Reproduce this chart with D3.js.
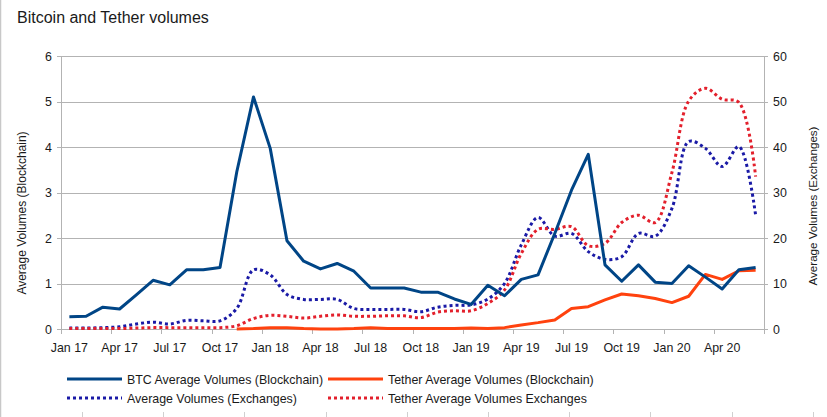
<!DOCTYPE html>
<html>
<head>
<meta charset="utf-8">
<script src="https://cdn.jsdelivr.net/npm/d3@7"></script>
<style>
  body { margin: 0; background: #fff; }
  text { font-family: "Liberation Sans", Arial, sans-serif; fill: #1a1a1a; }
</style>
</head>
<body>
<svg id="chart"></svg>
<script>
const months = [
  "Jan 17","Feb 17","Mar 17","Apr 17","May 17","Jun 17","Jul 17","Aug 17","Sep 17","Oct 17","Nov 17","Dec 17",
  "Jan 18","Feb 18","Mar 18","Apr 18","May 18","Jun 18","Jul 18","Aug 18","Sep 18","Oct 18","Nov 18","Dec 18",
  "Jan 19","Feb 19","Mar 19","Apr 19","May 19","Jun 19","Jul 19","Aug 19","Sep 19","Oct 19","Nov 19","Dec 19",
  "Jan 20","Feb 20","Mar 20","Apr 20","May 20","Jun 20"
];

// left axis (blockchain)
const btcBlockchain = [
  0.27, 0.28, 0.48, 0.44, 0.75, 1.07, 0.97, 1.30, 1.30, 1.35, 3.45, 5.10,
  3.97, 1.94, 1.49, 1.32, 1.44, 1.27, 0.90, 0.90, 0.90, 0.81, 0.81, 0.66,
  0.54, 0.96, 0.73, 1.09, 1.19, 2.10, 3.05, 3.84, 1.41, 1.05, 1.41, 1.03,
  1.00, 1.39, 1.14, 0.88, 1.30, 1.35
];
const tetherBlockchain = [
  null, null, null, null, null, null, null, null, null, null, 0.00, 0.01,
  0.03, 0.03, 0.01, 0.00, 0.00, 0.01, 0.03, 0.01, 0.01, 0.01, 0.01, 0.01,
  0.02, 0.01, 0.03, 0.09, 0.14, 0.20, 0.45, 0.49, 0.64, 0.77, 0.73, 0.67,
  0.58, 0.72, 1.20, 1.09, 1.28, 1.29
];

// right axis (exchanges)
const avgExchanges = [
  0.2, 0.2, 0.3, 0.5, 1.1, 1.5, 1.1, 1.9, 1.8, 1.8, 4.5, 13.0,
  11.9, 7.6, 6.5, 6.5, 6.5, 4.5, 4.3, 4.3, 4.3, 3.8, 4.8, 5.2,
  5.3, 6.6, 10.0, 18.5, 24.5, 20.4, 21.0, 17.0, 15.3, 15.9, 21.0, 20.4,
  26.5, 41.2, 39.7, 35.7, 40.1, 25.0
];
const tetherExchanges = [
  0.1, 0.1, 0.1, 0.1, 0.2, 0.3, 0.3, 0.3, 0.3, 0.3, 0.7, 2.3,
  3.0, 2.8, 2.4, 2.8, 3.1, 2.8, 2.8, 2.9, 2.9, 2.5, 3.7, 4.0,
  4.0, 5.6, 8.6, 16.6, 21.9, 21.9, 22.5, 18.3, 18.8, 23.4, 25.0, 23.4,
  34.4, 50.1, 52.9, 50.5, 49.8, 33.5
];

const leftTicks = [0, 1, 2, 3, 4, 5, 6];
const rightTicks = [0, 10, 20, 30, 40, 50, 60];

const seriesNames = [
  "BTC Average Volumes (Blockchain)",
  "Tether Average Volumes (Blockchain)",
  "Average Volumes (Exchanges)",
  "Tether Average Volumes Exchanges"
];

const width = 827, height = 417;
const plotLeft = 61, plotRight = 764, plotTop = 56, plotBottom = 329;
const gridColor = "#b3b3b3";

const svg = d3.select("#chart")
  .attr("width", width)
  .attr("height", height)
  .style("display", "block");

svg.append("rect").attr("width", width).attr("height", height).attr("fill", "#fff");
svg.append("line")
  .attr("x1", 0.5).attr("x2", 0.5).attr("y1", 0).attr("y2", height)
  .attr("stroke", "#c8c8c8").attr("stroke-width", 1.5);

// faint marks along the bottom edge
svg.append("g").selectAll("line")
  .data(d3.range(82, width, 81.2))
  .enter().append("line")
  .attr("x1", d => Math.round(d) + 0.5).attr("x2", d => Math.round(d) + 0.5)
  .attr("y1", 412).attr("y2", 417)
  .attr("stroke", "#d0d0d0");

const x = d3.scaleBand().domain(months).range([plotLeft, plotRight]).padding(0);
const xc = d => x(d) + x.bandwidth() / 2;
const yL = d3.scaleLinear().domain([0, 6]).range([plotBottom, plotTop]);
const yR = d3.scaleLinear().domain([0, 60]).range([plotBottom, plotTop]);

// title
svg.append("text")
  .attr("x", 17).attr("y", 23)
  .attr("font-size", "16px")
  .text("Bitcoin and Tether volumes");

// grid
svg.append("g").selectAll("line")
  .data(leftTicks)
  .enter().append("line")
  .attr("x1", plotLeft).attr("x2", plotRight)
  .attr("y1", d => Math.round(yL(d)) + 0.5).attr("y2", d => Math.round(yL(d)) + 0.5)
  .attr("stroke", gridColor);

// left axis
const gL = svg.append("g");
gL.append("line")
  .attr("x1", plotLeft + 0.5).attr("x2", plotLeft + 0.5).attr("y1", plotTop).attr("y2", plotBottom)
  .attr("stroke", gridColor);
gL.selectAll(".tk").data(leftTicks).enter().append("line")
  .attr("x1", plotLeft - 4).attr("x2", plotLeft)
  .attr("y1", d => Math.round(yL(d)) + 0.5).attr("y2", d => Math.round(yL(d)) + 0.5)
  .attr("stroke", gridColor);
gL.selectAll("text").data(leftTicks).enter().append("text")
  .attr("x", 52).attr("y", d => yL(d) + 4.5)
  .attr("text-anchor", "end")
  .attr("font-size", "12.4px")
  .text(d => d);

// right axis
const gR = svg.append("g");
gR.append("line")
  .attr("x1", plotRight + 0.5).attr("x2", plotRight + 0.5).attr("y1", plotTop).attr("y2", plotBottom + 5)
  .attr("stroke", gridColor);
gR.selectAll(".tk").data(rightTicks).enter().append("line")
  .attr("x1", plotRight).attr("x2", plotRight + 4)
  .attr("y1", d => Math.round(yR(d)) + 0.5).attr("y2", d => Math.round(yR(d)) + 0.5)
  .attr("stroke", gridColor);
gR.selectAll("text").data(rightTicks).enter().append("text")
  .attr("x", 773).attr("y", d => yR(d) + 4.5)
  .attr("font-size", "12.4px")
  .text(d => d);

// x axis
const gX = svg.append("g");
gX.append("line")
  .attr("x1", plotLeft - 4).attr("x2", plotRight).attr("y1", plotBottom + 0.5).attr("y2", plotBottom + 0.5)
  .attr("stroke", gridColor);
const quarterMonths = months.filter((m, i) => i % 3 === 0);
gX.selectAll(".tk").data(quarterMonths.concat([null])).enter().append("line")
  .attr("x1", d => (d ? Math.round(x(d)) : plotRight) + 0.5)
  .attr("x2", d => (d ? Math.round(x(d)) : plotRight) + 0.5)
  .attr("y1", plotBottom).attr("y2", plotBottom + 5)
  .attr("stroke", gridColor);
gX.selectAll("text").data(quarterMonths).enter().append("text")
  .attr("x", d => xc(d)).attr("y", 352)
  .attr("text-anchor", "middle")
  .attr("font-size", "12.4px")
  .text(d => d);

// axis titles
svg.append("text")
  .attr("transform", "translate(26,213) rotate(-90)")
  .attr("text-anchor", "middle")
  .attr("font-size", "12px")
  .text("Average Volumes (Blockchain)");
svg.append("text")
  .attr("transform", "translate(817,206) rotate(-90)")
  .attr("text-anchor", "middle")
  .attr("font-size", "11.6px")
  .text("Average Volumes (Exchanges)");

// series
const styles = [
  { values: btcBlockchain, scale: yL, color: "#004586", dash: null, curve: d3.curveLinear },
  { values: tetherBlockchain, scale: yL, color: "#ff420e", dash: null, curve: d3.curveLinear },
  { values: avgExchanges, scale: yR, color: "#1a1aa6", dash: "3,3", curve: d3.curveCatmullRom },
  { values: tetherExchanges, scale: yR, color: "#e3202c", dash: "3,3", curve: d3.curveCatmullRom }
];

const plot = svg.append("g");
[2, 3, 1, 0].forEach(k => {
  const s = styles[k];
  const line = d3.line()
    .defined(d => d[1] !== null)
    .x(d => xc(d[0]))
    .y(d => s.scale(d[1]))
    .curve(s.curve);
  plot.append("path")
    .datum(months.map((m, i) => [m, s.values[i]]))
    .attr("d", line)
    .attr("fill", "none")
    .attr("stroke", s.color)
    .attr("stroke-width", 3)
    .attr("stroke-linejoin", "round")
    .attr("stroke-dasharray", s.dash);
});

// legend
const legendPos = [[67, 379], [328, 379], [67, 398], [328, 398]];
const legend = svg.append("g");
seriesNames.forEach((name, k) => {
  const [lx, ly] = legendPos[k];
  legend.append("line")
    .attr("x1", lx).attr("x2", lx + 55)
    .attr("y1", ly).attr("y2", ly)
    .attr("stroke", styles[k].color)
    .attr("stroke-width", 3)
    .attr("stroke-dasharray", styles[k].dash);
  legend.append("text")
    .attr("x", lx + 60).attr("y", ly + 4.5)
    .attr("font-size", "12.4px")
    .text(name);
});
</script>
</body>
</html>
